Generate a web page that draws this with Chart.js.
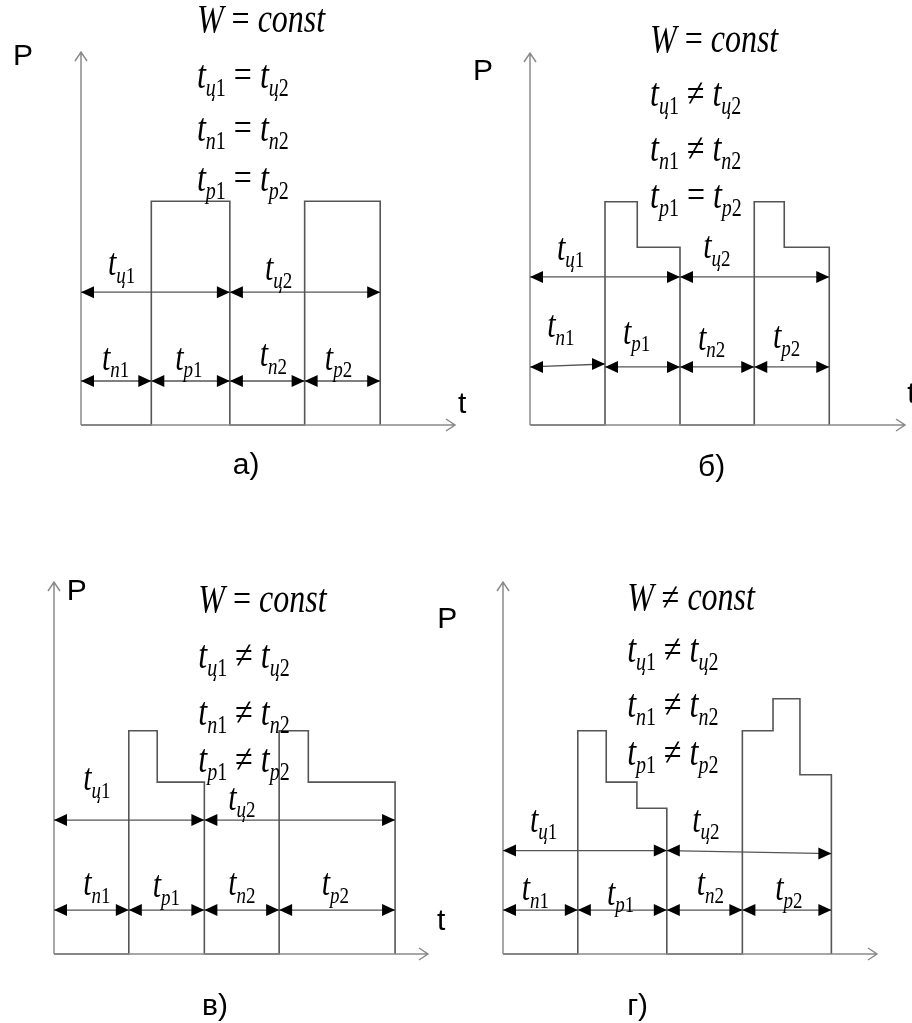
<!DOCTYPE html>
<html>
<head>
<meta charset="utf-8">
<script src="https://cdn.jsdelivr.net/npm/chart.js@4.4.1/dist/chart.umd.min.js"></script>
<style>
    body { margin: 0; background: #fff; width: 912px; height: 1023px; position: relative; overflow: hidden; }
    canvas { position: absolute; }
</style>
</head>
<body>
<canvas id="chartA" width="480" height="500" style="left:0;top:0"></canvas>
<canvas id="chartB" width="456" height="500" style="left:456px;top:0"></canvas>
<canvas id="chartC" width="480" height="523" style="left:0;top:500px"></canvas>
<canvas id="chartD" width="492" height="523" style="left:420px;top:500px"></canvas>
<script>
// load graphs: switching instants (time) and power level after each instant
const timesA = [0, 9.4, 19.9, 29.9, 40.0];
const powerA = [0, 30, 0, 30, 0];

const timesB = [0, 10.0, 14.3, 20.0, 29.9, 33.9, 39.9];
const powerB = [0, 30, 23.9, 0, 30, 23.9, 0];

const timesC = [0, 10.0, 13.8, 20.1, 30.1, 34.0, 45.6];
const powerC = [0, 30, 23.1, 0, 30, 23.1, 0];

const timesD = [0, 10.0, 13.8, 17.9, 21.9, 32.0, 36.1, 39.7, 43.9];
const powerD = [0, 30, 23.1, 19.6, 0, 30, 34.3, 24.1, 0];

// relation signs: W, tц, tп, tр
const relA = ['=', '=', '=', '='];
const relB = ['=', '≠', '≠', '='];
const relC = ['=', '≠', '≠', '≠'];
const relD = ['≠', '≠', '≠', '≠'];

const cycleNames = ['ц1', 'ц2'];
const phaseNames = ['п1', 'р1', 'п2', 'р2'];

const SERIF = '"Liberation Serif", "DejaVu Serif", serif';
const SANS = '"Liberation Sans", Arial, sans-serif';
const STRETCH = 1.25; // equation glyphs are taller than plain serif

// draws italic math like t_{ц1} = t_{ц2}
function drawMath(ctx, x, y, tokens) {
    ctx.save();
    ctx.translate(x, y);
    ctx.scale(1, STRETCH);
    let cx = 0;
    tokens.forEach(tk => {
        ctx.font = (tk.it ? 'italic ' : '') + tk.size + 'px ' + SERIF;
        ctx.fillText(tk.s, cx, tk.dy || 0);
        cx += ctx.measureText(tk.s).width;
    });
    ctx.restore();
}

function tSub(name, size) {
    const sub = Math.round(size * 0.62);
    return [
        { s: 't', it: true, size: size },
        { s: name[0], it: true, size: sub, dy: size * 0.2 },
        { s: name.slice(1), it: false, size: sub, dy: size * 0.2 }
    ];
}

function arrowHead(ctx, x, y, dir) {
    ctx.beginPath();
    ctx.moveTo(x, y);
    ctx.lineTo(x - dir * 13, y - 6);
    ctx.lineTo(x - dir * 13, y + 6);
    ctx.closePath();
    ctx.fill();
}

function dimension(ctx, x1, y1, x2, y2) {
    ctx.beginPath();
    ctx.moveTo(x1, y1);
    ctx.lineTo(x2, y2);
    ctx.stroke();
    arrowHead(ctx, x1, y1, -1);
    arrowHead(ctx, x2, y2, 1);
}

function overlay(p) {
    return {
        id: 'overlay',
        afterDatasetsDraw(chart) {
            const { ctx, chartArea: a } = chart;
            const X = v => chart.scales.x.getPixelForValue(v);
            const Y = v => chart.scales.y.getPixelForValue(v);
            ctx.save();

            // axes with open arrow heads
            ctx.strokeStyle = '#8a8a8a';
            ctx.lineWidth = 1.5;
            ctx.beginPath();
            ctx.moveTo(a.left, a.bottom); ctx.lineTo(a.left, a.top);
            ctx.moveTo(a.left - 6, a.top + 9); ctx.lineTo(a.left, a.top); ctx.lineTo(a.left + 6, a.top + 9);
            ctx.moveTo(a.left, a.bottom); ctx.lineTo(a.right, a.bottom);
            ctx.moveTo(a.right - 9, a.bottom - 6); ctx.lineTo(a.right, a.bottom); ctx.lineTo(a.right - 9, a.bottom + 6);
            ctx.stroke();

            // cycle and phase boundaries from the load graph
            const rises = [], falls = [];
            p.times.forEach((t, i) => {
                if (i === 0) return;
                if (p.power[i - 1] === 0 && p.power[i] > 0) rises.push(t);
                if (p.power[i - 1] > 0 && p.power[i] === 0) falls.push(t);
            });
            const cycles = [0, ...falls];
            const phases = [0, ...rises, ...falls].sort((m, n) => m - n);

            ctx.strokeStyle = '#555';
            ctx.fillStyle = '#000';
            ctx.lineWidth = 1.3;
            for (let i = 0; i < cycles.length - 1; i++) {
                const s = (p.cycleSlope || [])[i] || 0;
                dimension(ctx, X(cycles[i]), Y(p.cycleY), X(cycles[i + 1]), Y(p.cycleY + s));
            }
            for (let i = 0; i < phases.length - 1; i++) {
                const s = (p.phaseSlope || [])[i] || 0;
                dimension(ctx, X(phases[i]), Y(p.phaseY), X(phases[i + 1]), Y(p.phaseY + s));
            }

            // interval labels
            ctx.textBaseline = 'alphabetic';
            cycleNames.forEach((n, i) => drawMath(ctx, X(p.cycleLabels[i][0]), Y(p.cycleLabels[i][1]), tSub(n, 30)));
            phaseNames.forEach((n, i) => drawMath(ctx, X(p.phaseLabels[i][0]), Y(p.phaseLabels[i][1]), tSub(n, 30)));

            // conditions block
            const fx = X(p.formula.x), fy = p.formula.y.map(Y), S = 32;
            drawMath(ctx, fx, fy[0], [
                { s: 'W', it: true, size: S },
                { s: ' ' + p.rel[0] + ' ', it: false, size: S },
                { s: 'const', it: true, size: S }
            ]);
            ['ц', 'п', 'р'].forEach((n, i) => {
                drawMath(ctx, fx, fy[i + 1], [
                    ...tSub(n + '1', S),
                    { s: ' ' + p.rel[i + 1] + ' ', it: false, size: S },
                    ...tSub(n + '2', S)
                ]);
            });

            // axis names and panel letter
            ctx.font = '30px ' + SANS;
            ctx.fillText('P', X(p.pLabel[0]), Y(p.pLabel[1]));
            if (p.tLabel) ctx.fillText('t', X(p.tLabel[0]), Y(p.tLabel[1]));
            ctx.fillText(p.tag, X(p.tagAt[0]), Y(p.tagAt[1]));
            ctx.restore();
        }
    };
}

function makePanel(id, p) {
    const points = p.times.map((t, i) => ({ x: t, y: p.power[i] }));
    return new Chart(document.getElementById(id), {
        type: 'line',
        data: {
            datasets: [{
                data: points,
                stepped: 'before',
                borderColor: '#555',
                borderWidth: 1.6,
                pointRadius: 0,
                fill: false,
                clip: false
            }]
        },
        options: {
            responsive: false,
            animation: false,
            events: [],
            layout: { padding: p.pad },
            scales: {
                x: { type: 'linear', min: 0, max: 50, display: false },
                y: { type: 'linear', min: 0, max: 50, display: false }
            },
            plugins: { legend: { display: false }, tooltip: { enabled: false } }
        },
        plugins: [overlay(p)]
    });
}

makePanel('chartA', {
    times: timesA, power: powerA, rel: relA,
    pad: { left: 81, top: 52, right: 25, bottom: 75 },
    cycleY: 17.8, phaseY: 5.9,
    cycleLabels: [[3.6, 20.1], [24.6, 19.4]],
    phaseLabels: [[2.8, 7.4], [12.6, 7.4], [23.9, 7.9], [32.6, 7.4]],
    formula: { x: 15.5, y: [52.7, 45.2, 38.1, 31.4] },
    pLabel: [-9.1, 48.3], tLabel: [50.4, 1.6],
    tag: 'а)', tagAt: [20.3, -6.6]
});

makePanel('chartB', {
    times: timesB, power: powerB, rel: relB,
    pad: { left: 74, top: 53, right: 7, bottom: 75 },
    cycleY: 19.9, phaseY: 7.8, phaseSlope: [0.4],
    cycleLabels: [[3.6, 22.2], [23.1, 22.4]],
    phaseLabels: [[2.3, 11.8], [12.4, 10.9], [22.4, 10.1], [32.4, 10.3]],
    formula: { x: 16, y: [50.1, 42.9, 35.5, 29.2] },
    pLabel: [-7.6, 46.4], tLabel: [50.3, 3.0],
    tag: 'б)', tagAt: [22.4, -6.9]
});

makePanel('chartC', {
    times: timesC, power: powerC, rel: relC,
    pad: { left: 54, top: 82, right: 52, bottom: 69 },
    cycleY: 18.0, phaseY: 5.9,
    cycleLabels: [[3.9, 22.0], [23.3, 19.4]],
    phaseLabels: [[3.9, 7.9], [13.2, 7.6], [23.3, 7.9], [35.8, 7.9]],
    formula: { x: 19.3, y: [46.0, 38.4, 30.8, 24.5] },
    pLabel: [1.7, 47.6], tLabel: [51.2, 3.2],
    tag: 'в)', tagAt: [19.8, -8.2]
});

makePanel('chartD', {
    times: timesD, power: powerD, rel: relD,
    pad: { left: 83, top: 82, right: 35, bottom: 69 },
    cycleY: 13.9, phaseY: 5.9, cycleSlope: [0, -0.4],
    cycleLabels: [[3.6, 16.4], [25.3, 16.4]],
    phaseLabels: [[2.5, 7.2], [13.9, 6.6], [25.9, 7.9], [36.4, 7.2]],
    formula: { x: 16.6, y: [46.2, 39.2, 31.9, 25.4] },
    pLabel: [-8.8, 43.8], tLabel: null,
    tag: 'г)', tagAt: [16.6, -8.2]
});
</script>
</body>
</html>
